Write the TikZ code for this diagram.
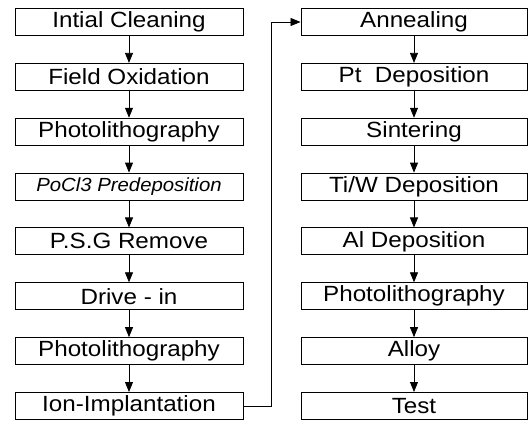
\documentclass[tikz,border=0pt]{standalone}
\usepackage{fontspec}
\setmainfont{Liberation Sans}
\newfontfamily\boxfont[FakeStretch=1.1]{Liberation Sans}
\newfontfamily\smallboxfont[FakeStretch=1.07]{Liberation Sans}
\usetikzlibrary{arrows.meta}
\begin{document}
\begin{tikzpicture}[x=1pt,y=-1pt,
  stepbox/.style={draw,line width=0.9pt,minimum height=27pt,inner sep=0pt,
    font=\boxfont\fontsize{22}{24}\selectfont},
  lbox/.style={stepbox,minimum width=228pt},
  rbox/.style={stepbox,minimum width=226pt},
  flow/.style={line width=0.8pt,-{Triangle[width=8pt,length=10pt]}}]
\useasboundingbox (0,0) rectangle (528,421);
\def\dy{54.85}
\node[lbox] (l1) at (129,22) {Intial Cleaning};
\node[lbox] (l2) at (129,22+\dy) {Field Oxidation};
\node[lbox] (l3) at (129,22+2*\dy) {Photolithography};
\node[lbox,font=\smallboxfont\itshape\fontsize{19}{21}\selectfont] (l4) at (129,22+3*\dy) {PoCl3 Predeposition};
\node[lbox] (l5) at (129,22+4*\dy) {P.S.G Remove};
\node[lbox] (l6) at (129,22+5*\dy) {Drive - in};
\node[lbox] (l7) at (129,22+6*\dy) {Photolithography};
\node[lbox] (l8) at (129,22+7*\dy) {Ion-Implantation};
\node[rbox] (r1) at (414,22) {Annealing};
\node[rbox] (r2) at (414,22+\dy) {Pt~~Deposition};
\node[rbox] (r3) at (414,22+2*\dy) {Sintering};
\node[rbox] (r4) at (414,22+3*\dy) {Ti/W Deposition};
\node[rbox] (r5) at (414,22+4*\dy) {Al Deposition};
\node[rbox] (r6) at (414,22+5*\dy) {Photolithography};
\node[rbox] (r7) at (414,22+6*\dy) {Alloy};
\node[rbox] (r8) at (414,22+7*\dy) {Test};
\foreach \a/\b in {1/2,2/3,3/4,4/5,5/6,6/7,7/8}{
  \draw[flow] (l\a) -- (l\b);
  \draw[flow] (r\a) -- (r\b);
}
\coordinate (bend) at (271,0);
\draw[flow] (l8.east) -- (l8.east -| bend) |- (r1.west);
\end{tikzpicture}
\end{document}
